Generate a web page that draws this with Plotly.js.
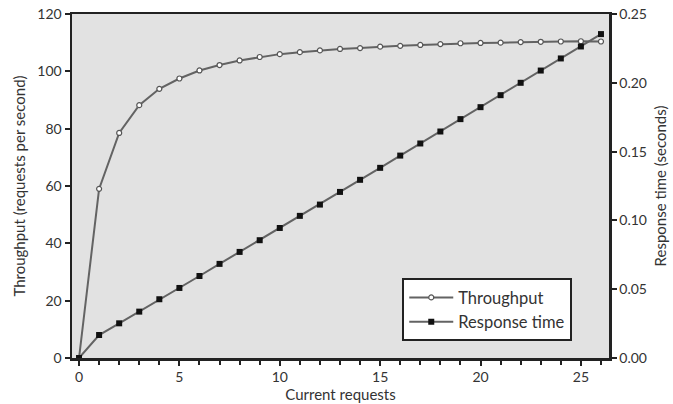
<!DOCTYPE html>
<html>
<head>
<meta charset="utf-8">
<script src="https://cdn.plot.ly/plotly-3.0.1.min.js"></script>
<style>html,body{margin:0;padding:0;background:#fff;}#chart{width:673px;height:404px;}</style>
</head>
<body>
<div id="chart"></div>
<script>
const requests = [0,1,2,3,4,5,6,7,8,9,10,11,12,13,14,15,16,17,18,19,20,21,22,23,24,25,26];
const throughput = [0,59,78.5,88.2,93.9,97.5,100.3,102.2,103.8,105,106,106.7,107.3,107.8,108.1,108.6,108.9,109.2,109.5,109.8,109.9,110,110.2,110.3,110.4,110.5,110.4];
const responseTime = [0,0.0167,0.0252,0.0337,0.0427,0.0509,0.0596,0.0684,0.0771,0.0856,0.0945,0.1033,0.1115,0.1207,0.1295,0.1382,0.1471,0.1559,0.1646,0.1736,0.1823,0.191,0.2,0.2089,0.2177,0.2264,0.2354];
const seriesNames = ["Throughput","Response time"];

const tickFont = {family:"Lato, 'Open Sans', sans-serif", size:14, color:"#333"};
const titleFont = {family:"Lato, 'Open Sans', sans-serif", size:15, color:"#333"};

const traces = [
  {x:requests, y:throughput, name:seriesNames[0], type:"scatter", mode:"lines+markers",
   line:{color:"#636363", width:2},
   marker:{symbol:"circle", size:5, color:"#ffffff", line:{color:"#555", width:1.2}}},
  {x:requests, y:responseTime, name:seriesNames[1], type:"scatter", mode:"lines+markers", yaxis:"y2",
   line:{color:"#636363", width:2},
   marker:{symbol:"square", size:6, color:"#111", line:{width:0}}}
];

const layout = {
  width:673, height:404,
  margin:{l:72, r:64, t:14, b:46},
  paper_bgcolor:"#ffffff",
  plot_bgcolor:"#e2e2e2",
  showlegend:true,
  legend:{x:0.615, y:0.232, xanchor:"left", yanchor:"top", bgcolor:"#ffffff",
          bordercolor:"#222", borderwidth:2, font:{family:"Lato, 'Open Sans', sans-serif", size:16.5, color:"#333"},
          tracegroupgap:0, itemwidth:44},
  xaxis:{range:[-0.35,26.4], tickmode:"array", tickvals:[0,5,10,15,20,25], ticktext:["0","5","10","15","20","25"],
         ticks:"outside", ticklen:5, tickwidth:2, tickcolor:"#222",
         minor:{tickmode:"linear", tick0:0, dtick:1, ticks:"outside", ticklen:4, tickwidth:2, tickcolor:"#222"},
         showline:true, linecolor:"#222", linewidth:2.5, mirror:true, showgrid:false, zeroline:false,
         tickfont:tickFont, title:{text:"Current requests", font:titleFont, standoff:2}},
  yaxis:{range:[0,120], tickmode:"linear", tick0:0, dtick:20, ticks:"outside", ticklen:5, tickwidth:2, tickcolor:"#222",
         showline:true, linecolor:"#222", linewidth:2.5, showgrid:false, zeroline:false,
         tickfont:tickFont, title:{text:"Throughput (requests per second)", font:titleFont, standoff:8}},
  yaxis2:{range:[0,0.25], overlaying:"y", side:"right", tickmode:"linear", tick0:0, dtick:0.05, tickformat:".2f",
          ticks:"outside", ticklen:5, tickwidth:2, tickcolor:"#222",
          showline:true, linecolor:"#222", linewidth:2.5, showgrid:false, zeroline:false,
          tickfont:tickFont, title:{text:"Response time (seconds)", font:titleFont, standoff:10}}
};

Plotly.newPlot("chart", traces, layout, {displayModeBar:false, staticPlot:true});
</script>
</body>
</html>
